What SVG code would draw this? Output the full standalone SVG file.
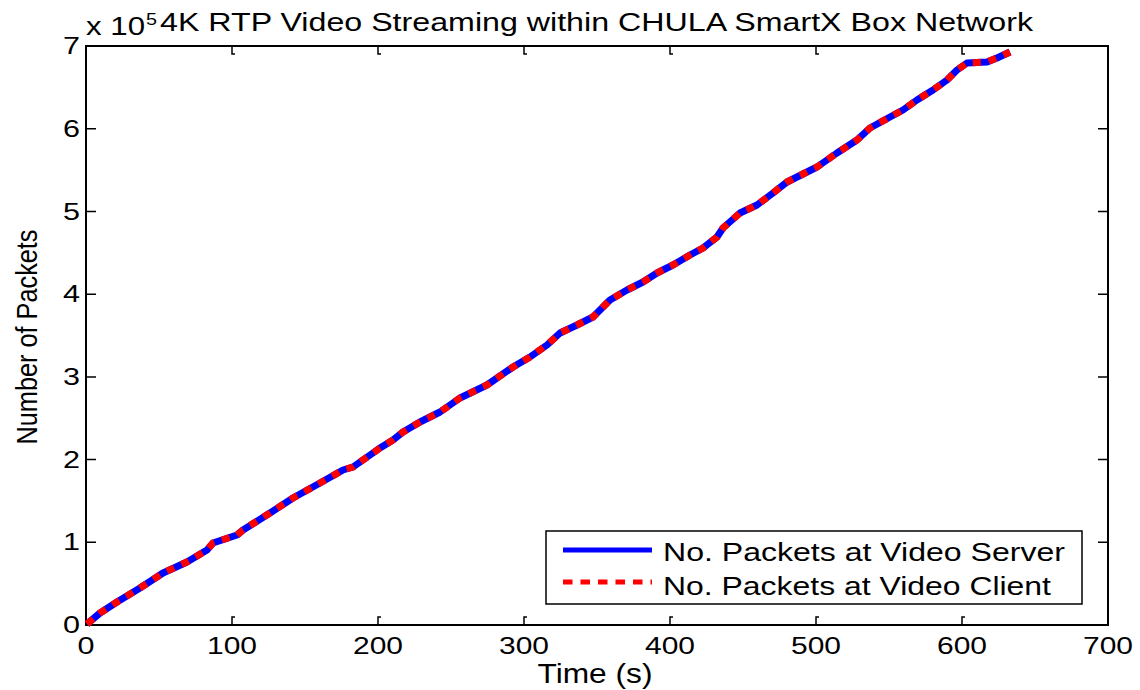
<svg xmlns="http://www.w3.org/2000/svg" width="1140" height="690" viewBox="0 0 1140 690">
<style>
text{font-family:"Liberation Sans",Arial,sans-serif;fill:#000}
.ax{fill:none;stroke:#000;stroke-width:2}
.tk{fill:none;stroke:#000;stroke-width:1.5}
.blue{fill:none;stroke:#0000ff;stroke-width:7;stroke-linejoin:round}
.red{fill:none;stroke:#ff0000;stroke-width:7;stroke-dasharray:8 8}
</style>
<rect width="1140" height="690" fill="#fff"/>
<g id="axes">
<rect class="ax" x="86" y="46" width="1022" height="579"/>
<g class="tk">
<path d="M232,625v-8h3M378,625v-8h3M524,625v-8h3M670,625v-8h3M816,625v-8h3M962,625v-8h3"/>
<path d="M232,46v8h3M378,46v8h3M524,46v8h3M670,46v8h3M816,46v8h3M962,46v8h3"/>
<path d="M86,542.3h10M86,459.6h10M86,376.9h10M86,294.2h10M86,211.5h10M86,128.8h10M86,46h10"/>
<path d="M1108,542.3h-10M1108,459.6h-10M1108,376.9h-10M1108,294.2h-10M1108,211.5h-10M1108,128.8h-10M1108,625h-10"/>
</g>
<g font-size="24" text-anchor="middle">
<text x="86" y="654" textLength="17" lengthAdjust="spacingAndGlyphs">0</text>
<text x="232" y="654" textLength="50" lengthAdjust="spacingAndGlyphs">100</text>
<text x="378" y="654" textLength="50" lengthAdjust="spacingAndGlyphs">200</text>
<text x="524" y="654" textLength="50" lengthAdjust="spacingAndGlyphs">300</text>
<text x="670" y="654" textLength="50" lengthAdjust="spacingAndGlyphs">400</text>
<text x="816" y="654" textLength="50" lengthAdjust="spacingAndGlyphs">500</text>
<text x="962" y="654" textLength="50" lengthAdjust="spacingAndGlyphs">600</text>
<text x="1108" y="654" textLength="50" lengthAdjust="spacingAndGlyphs">700</text>
</g>
<g font-size="24" text-anchor="end">
<text x="80" y="633" textLength="17" lengthAdjust="spacingAndGlyphs">0</text>
<text x="80" y="550.3" textLength="17" lengthAdjust="spacingAndGlyphs">1</text>
<text x="80" y="467.6" textLength="17" lengthAdjust="spacingAndGlyphs">2</text>
<text x="80" y="384.9" textLength="17" lengthAdjust="spacingAndGlyphs">3</text>
<text x="80" y="302.2" textLength="17" lengthAdjust="spacingAndGlyphs">4</text>
<text x="80" y="219.5" textLength="17" lengthAdjust="spacingAndGlyphs">5</text>
<text x="80" y="136.8" textLength="17" lengthAdjust="spacingAndGlyphs">6</text>
<text x="80" y="54" textLength="17" lengthAdjust="spacingAndGlyphs">7</text>
</g>
<text x="595" y="683" font-size="28" text-anchor="middle" textLength="115" lengthAdjust="spacingAndGlyphs">Time (s)</text>
<text transform="translate(37,337) rotate(-90)" font-size="30" text-anchor="middle" textLength="215" lengthAdjust="spacingAndGlyphs">Number of Packets</text>
<text x="86" y="35" font-size="25" textLength="59" lengthAdjust="spacingAndGlyphs">x 10</text>
<text x="146" y="25" font-size="16" textLength="11" lengthAdjust="spacingAndGlyphs">5</text>
<text x="160" y="31" font-size="25" textLength="873" lengthAdjust="spacingAndGlyphs">4K RTP Video Streaming within CHULA SmartX Box Network</text>
</g>
<g id="connectors">
<polyline id="server" class="blue" points="87,624 100,613 117,602 140,588 163,573 187,562 207,550 213,543 237,535 243,530 270,513 293,498 320,483 343,470 353,467 380,448 393,440 403,432 420,422 440,412 460,398 487,385 513,367 530,357 547,345 560,333 577,325 593,317 610,300 627,290 643,282 657,273 673,265 690,255 703,248 717,237 723,228 740,213 757,205 773,193 787,182 797,177 817,167 837,153 857,140 870,128 890,117 903,110 917,100 933,90 947,80 957,70 967,63 987,62 997,58 1010,52"/>
<polyline id="client" class="red" points="87,624 100,613 117,602 140,588 163,573 187,562 207,550 213,543 237,535 243,530 270,513 293,498 320,483 343,470 353,467 380,448 393,440 403,432 420,422 440,412 460,398 487,385 513,367 530,357 547,345 560,333 577,325 593,317 610,300 627,290 643,282 657,273 673,265 690,255 703,248 717,237 723,228 740,213 757,205 773,193 787,182 797,177 817,167 837,153 857,140 870,128 890,117 903,110 917,100 933,90 947,80 957,70 967,63 987,62 997,58 1010,52"/>
</g>
<g id="legend">
<rect x="546" y="531" width="536" height="73" fill="#fff" stroke="#000" stroke-width="1.5"/>
<line x1="563" y1="550" x2="652" y2="550" stroke="#0000ff" stroke-width="5"/>
<line x1="563" y1="582" x2="652" y2="582" stroke="#ff0000" stroke-width="5" stroke-dasharray="9.5 8"/>
<text x="663" y="561" font-size="25" textLength="402" lengthAdjust="spacingAndGlyphs">No. Packets at Video Server</text>
<text x="663" y="595" font-size="25" textLength="388" lengthAdjust="spacingAndGlyphs">No. Packets at Video Client</text>
</g>
</svg>
